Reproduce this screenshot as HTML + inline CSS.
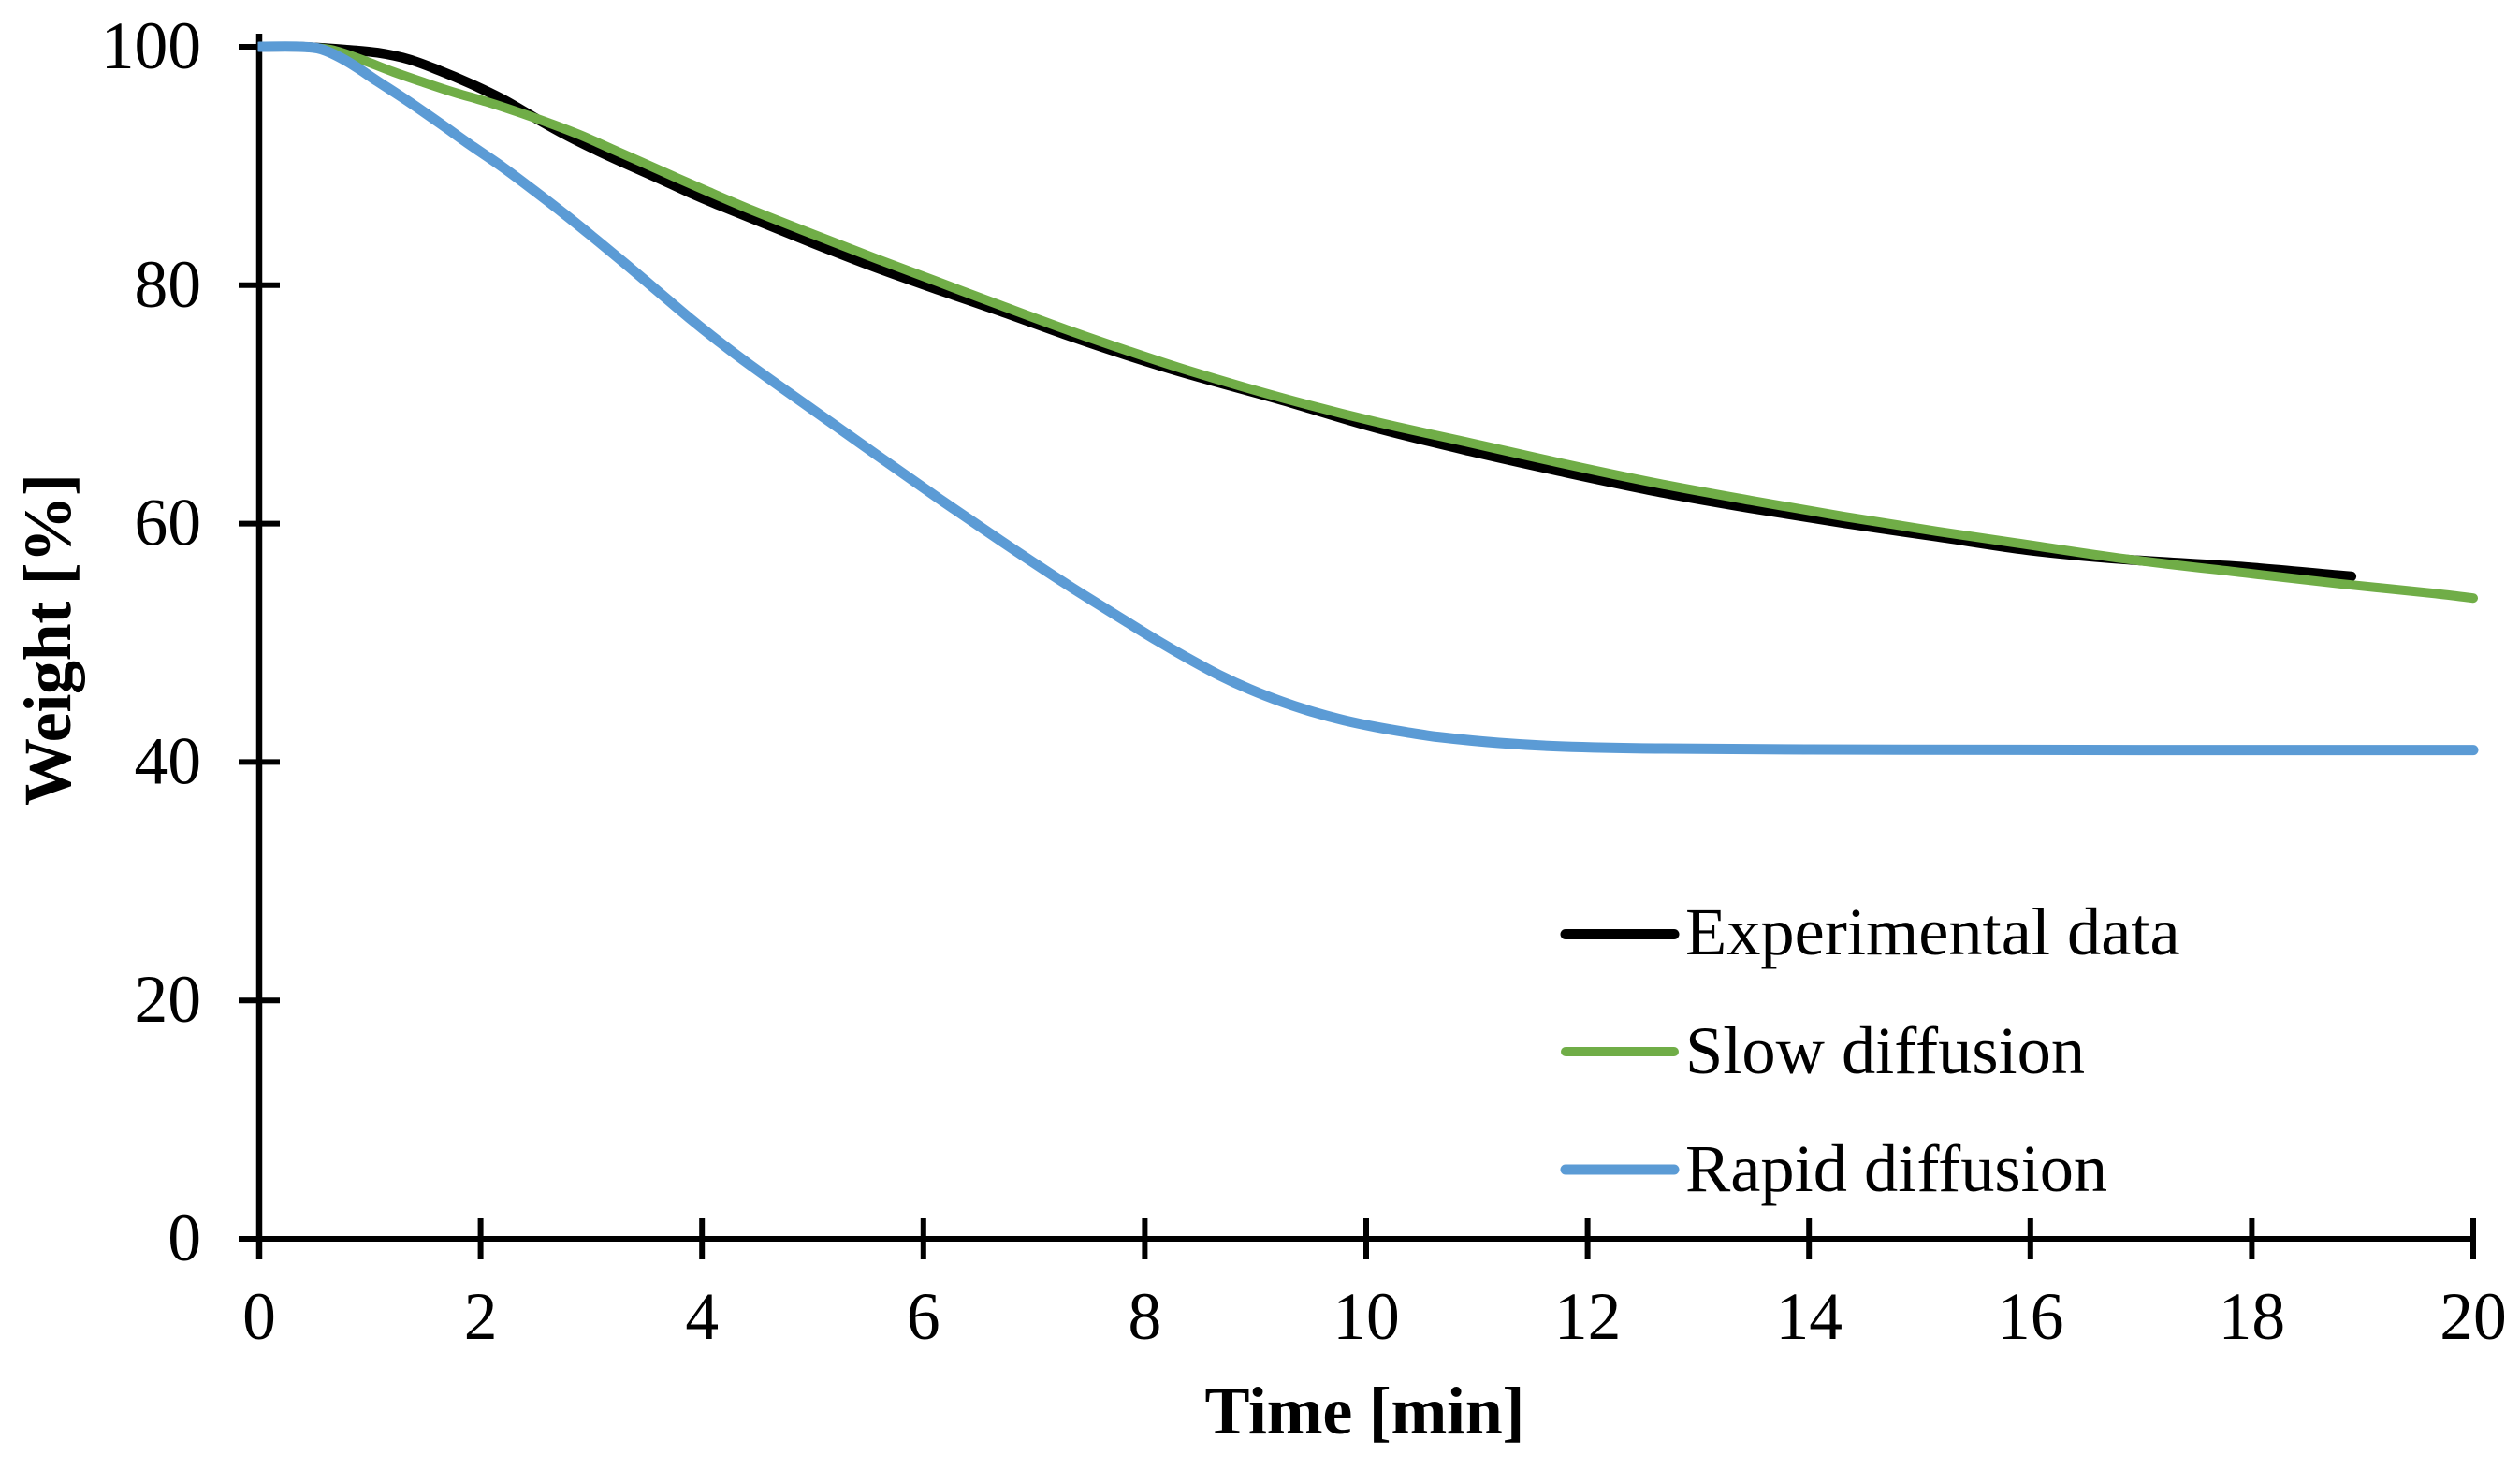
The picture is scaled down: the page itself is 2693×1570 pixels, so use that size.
<!DOCTYPE html>
<html lang="en">
<head>
<meta charset="utf-8">
<title>Weight versus time chart</title>
<style>
html,body{margin:0;padding:0;background:#fff;}
svg{display:block;}
text{font-family:"Liberation Serif",serif;font-size:71.5px;fill:#000;}
.bold{font-weight:bold;font-size:72px;}
.legend-text{font-size:72.4px;}
</style>
</head>
<body>
<svg id="chart" xmlns="http://www.w3.org/2000/svg" width="2693" height="1570" viewBox="0 0 2693 1570">
  <defs><clipPath id="plot-clip"><rect x="275.5" y="0" width="2417" height="1570"/></clipPath></defs>
  <g id="axes"></g>
  <g id="series" clip-path="url(#plot-clip)"></g>
  <text x="1287.5" y="1532" textLength="342" class="bold">Time [min]</text>
  <text transform="translate(75 861) rotate(-90)" x="0" y="0" textLength="355" class="bold">Weight [%]</text>
  <g>
    <line x1="1673" y1="998.5" x2="1789" y2="998.5" stroke="#000000" stroke-width="11" stroke-linecap="round"/>
    <text class="legend-text" x="1801" y="1020">Experimental data</text>
    <line x1="1673" y1="1124" x2="1789" y2="1124" stroke="#70AD47" stroke-width="10" stroke-linecap="round"/>
    <text class="legend-text" x="1801" y="1147">Slow diffusion</text>
    <line x1="1673" y1="1250" x2="1789" y2="1250" stroke="#5B9BD5" stroke-width="11" stroke-linecap="round"/>
    <text class="legend-text" x="1801" y="1273">Rapid diffusion</text>
  </g>
</svg>
<script>
var xTickValues = [0, 2, 4, 6, 8, 10, 12, 14, 16, 18, 20];
var yTickValues = [0, 20, 40, 60, 80, 100];

var experimentalTime = [0, 0.36, 0.79, 1.07, 1.35, 1.63, 1.91, 2.2, 2.48, 2.76, 3.04, 3.32, 3.6, 3.88, 4.17, 5.01, 5.58, 6.14, 6.7, 7.27, 7.83, 8.39, 9.24, 10.08, 10.93, 11.77, 12.62, 13.47, 14.31, 15.16, 16, 16.85, 17.95, 18.8, 18.9];
var experimentalWeight = [100, 100, 99.75, 99.5, 98.95, 98, 96.9, 95.6, 94.1, 92.65, 91.35, 90.15, 89, 87.8, 86.65, 83.5, 81.45, 79.6, 77.8, 75.9, 74.15, 72.55, 70.35, 68.05, 66.1, 64.35, 62.7, 61.3, 60.05, 58.9, 57.75, 57, 56.35, 55.65, 55.57];

var slowTime = [0, 0.36, 0.65, 0.93, 1.21, 1.49, 1.77, 2.05, 2.33, 2.62, 2.9, 3.18, 3.46, 3.75, 4.03, 4.45, 5.01, 5.58, 6.14, 6.7, 7.27, 7.83, 8.39, 9.24, 10.08, 10.93, 11.77, 12.62, 13.47, 14.31, 15.16, 16, 16.85, 17.95, 18.8, 19.64, 20];
var slowWeight = [100, 100, 99.75, 98.9, 97.9, 97, 96.15, 95.4, 94.55, 93.6, 92.6, 91.45, 90.3, 89.1, 87.96, 86.3, 84.25, 82.2, 80.25, 78.3, 76.35, 74.55, 72.85, 70.55, 68.55, 66.8, 65.05, 63.4, 61.95, 60.6, 59.35, 58.2, 57.05, 55.85, 54.95, 54.15, 53.75];

var rapidTime = [0, 0.36, 0.56, 0.79, 1.07, 1.35, 1.63, 1.91, 2.2, 2.48, 2.76, 3.04, 3.32, 3.6, 3.88, 4.17, 4.45, 5.01, 5.58, 6.14, 6.7, 7.27, 7.83, 8.11, 8.39, 8.67, 8.95, 9.24, 9.52, 9.8, 10.08, 10.36, 10.65, 11.2, 11.77, 12.62, 14, 17, 20];
var rapidWeight = [100, 100, 99.8, 98.8, 97.1, 95.4, 93.6, 91.75, 89.9, 87.96, 85.95, 83.85, 81.7, 79.5, 77.3, 75.15, 73.2, 69.5, 65.75, 62.1, 58.55, 55.05, 51.8, 50.2, 48.7, 47.3, 46.1, 45.05, 44.2, 43.5, 42.95, 42.5, 42.1, 41.6, 41.3, 41.13, 41.05, 41, 41];

function xScale(t) { return 277 + 118.3 * t; }
function yScale(v) { return 1324 - 12.74 * v; }

var SVG_NS = 'http://www.w3.org/2000/svg';
var axesGroup = document.getElementById('axes');
var seriesGroup = document.getElementById('series');

function axisLine(x1, y1, x2, y2, w) {
  var l = document.createElementNS(SVG_NS, 'line');
  l.setAttribute('x1', x1);
  l.setAttribute('y1', y1);
  l.setAttribute('x2', x2);
  l.setAttribute('y2', y2);
  l.setAttribute('stroke', '#000');
  l.setAttribute('stroke-width', w);
  axesGroup.appendChild(l);
  return l;
}

function smoothPath(ts, vs) {
  var p = ts.map(function (t, i) { return [xScale(t), yScale(vs[i])]; });
  function slope(i) {
    var a = p[Math.max(i - 1, 0)], b = p[Math.min(i + 1, p.length - 1)];
    return (b[1] - a[1]) / (b[0] - a[0]);
  }
  var d = 'M' + p[0][0].toFixed(2) + ' ' + p[0][1].toFixed(2);
  for (var i = 0; i < p.length - 1; i++) {
    var dx = (p[i + 1][0] - p[i][0]) / 3;
    var c1y = p[i][1] + slope(i) * dx;
    var c2y = p[i + 1][1] - slope(i + 1) * dx;
    d += 'C' + (p[i][0] + dx).toFixed(2) + ' ' + c1y.toFixed(2) + ' ' + (p[i + 1][0] - dx).toFixed(2) + ' ' + c2y.toFixed(2) + ' ' + p[i + 1][0].toFixed(2) + ' ' + p[i + 1][1].toFixed(2);
  }
  return d;
}

var yAxisLine = axisLine(xScale(0), 36, xScale(0), yScale(0) + 22, 6.5);



var xAxisLine = axisLine(xScale(0) - 22, yScale(0), xScale(20) + 3, yScale(0), 6);



yTickValues.forEach(function (v) {
  var tick = axisLine(xScale(0) - 22, yScale(v), xScale(0) + 22, yScale(v), 6);
  
  
  var label = document.createElementNS(SVG_NS, 'text');
  label.setAttribute('x', 215);
  label.setAttribute('y', yScale(v) + 23);
  label.setAttribute('text-anchor', 'end');
  label.textContent = String(v);
  
  
  axesGroup.appendChild(label);
});

xTickValues.forEach(function (t) {
  var tick = axisLine(xScale(t), yScale(0) - 22, xScale(t), yScale(0) + 22, 6);
  
  
  var label = document.createElementNS(SVG_NS, 'text');
  label.setAttribute('x', xScale(t));
  label.setAttribute('y', 1431);
  label.setAttribute('text-anchor', 'middle');
  label.textContent = String(t);
  
  
  axesGroup.appendChild(label);
});

function seriesPath(ts, vs, color, width) {
  var path = document.createElementNS(SVG_NS, 'path');
  path.setAttribute('d', smoothPath(ts, vs));
  path.setAttribute('fill', 'none');
  path.setAttribute('stroke', color);
  path.setAttribute('stroke-width', width);
  path.setAttribute('stroke-linecap', 'round');
  path.setAttribute('stroke-linejoin', 'round');
  seriesGroup.appendChild(path);
  return path;
}

var experimentalLine = seriesPath(experimentalTime, experimentalWeight, '#000000', 10.5);



var slowLine = seriesPath(slowTime, slowWeight, '#70AD47', 10);



var rapidLine = seriesPath(rapidTime, rapidWeight, '#5B9BD5', 11);


</script>
</body>
</html>
